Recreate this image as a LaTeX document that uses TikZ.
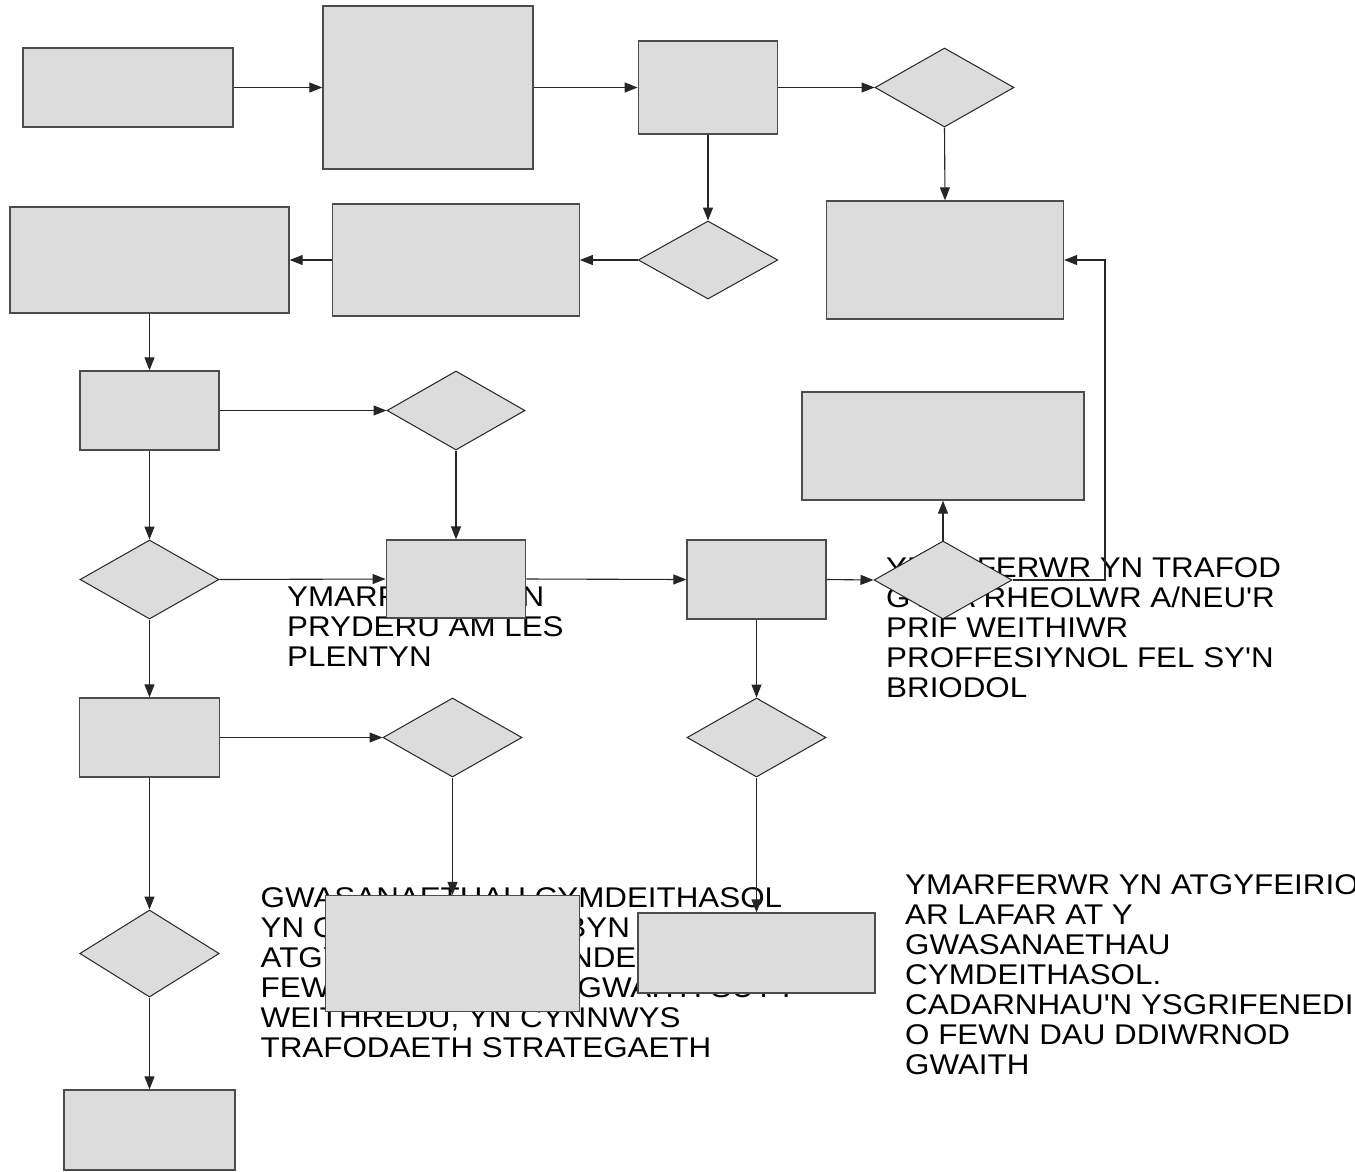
\documentclass[tikz,border=0pt]{standalone}
\usepackage{fontspec}
\setmainfont{Liberation Sans}[FakeStretch=1.1,Ligatures=TeXOff]
\usetikzlibrary{shapes.geometric,arrows.meta}
\definecolor{boxgray}{HTML}{DCDCDC}
\begin{document}
\begin{tikzpicture}[x=1pt,y=-1pt,
  box/.style={rectangle,draw=black!70,line width=1.3pt,fill=boxgray,inner sep=0pt},
  dia/.style={diamond,draw=black!85,line width=1pt,fill=boxgray,inner sep=0pt},
  conn/.style={draw=black!85,line width=1.1pt,-{Triangle[length=13pt,width=10pt]}},
  lbl/.style={anchor=north west,inner sep=0pt,align=left,font=\fontsize{28.5}{30}\selectfont}]
\useasboundingbox (0,0) rectangle (1355,1171);
\fill[white] (0,0) rectangle (1355,1171);

% free texts (partly covered by shapes)
\node[lbl] (t1) at (287,587) {YMARFERWR YN\\PRYDERU AM LES\\PLENTYN};
\node[lbl] (t2) at (886,557) {YMARFERWR YN TRAFOD\\GYDA RHEOLWR A/NEU'R\\PRIF WEITHIWR\\PROFFESIYNOL FEL SY'N\\BRIODOL};
\node[lbl] (t3) at (260.5,887) {GWASANAETHAU CYMDEITHASOL\\YN CYDNABOD DERBYN YR\\ATGYFEIRIAD A PHENDERFYNU O\\FEWN UN DIWRNOD GWAITH SUT I\\WEITHREDU, YN CYNNWYS\\TRAFODAETH STRATEGAETH};
\node[lbl] (t4) at (905,874) {YMARFERWR YN ATGYFEIRIO\\AR LAFAR AT Y\\GWASANAETHAU\\CYMDEITHASOL.\\CADARNHAU'N YSGRIFENEDIG\\O FEWN DAU DDIWRNOD\\GWAITH};

% boxes
\node[box,minimum width=210pt,minimum height=79pt] (r1) at (128,87.5) {};
\node[box,minimum width=210pt,minimum height=163pt] (r2) at (428,87.5) {};
\node[box,minimum width=139.5pt,minimum height=93pt] (r3) at (708,87.5) {};
\node[dia,minimum width=139pt,minimum height=79pt] (d1) at (944.5,87.5) {};
\node[box,minimum width=237pt,minimum height=118pt] (r4) at (945,260) {};
\node[dia,minimum width=139.5pt,minimum height=78pt] (d2) at (708,260) {};
\node[box,minimum width=246.5pt,minimum height=112pt] (r5) at (456,260) {};
\node[box,minimum width=279pt,minimum height=106pt] (r6) at (149.5,260) {};
\node[box,minimum width=139pt,minimum height=79pt] (r7) at (149.5,410.5) {};
\node[dia,minimum width=138pt,minimum height=79pt] (d3) at (456,410.5) {};
\node[dia,minimum width=139pt,minimum height=79pt] (d4) at (149.5,579.5) {};
\node[box,minimum width=139.5pt,minimum height=78pt] (r8) at (456,579) {};
\node[box,minimum width=139pt,minimum height=79pt] (r9) at (756.5,579.5) {};
\node[dia,minimum width=138pt,minimum height=78pt] (d5) at (943,580) {};
\node[box,minimum width=282pt,minimum height=108pt] (r10) at (943,446) {};
\node[box,minimum width=139.5pt,minimum height=79pt] (r11) at (149.5,737.5) {};
\node[dia,minimum width=139pt,minimum height=79pt] (d6) at (452.5,737.5) {};
\node[dia,minimum width=139pt,minimum height=79pt] (d7) at (756.5,737.5) {};
\node[dia,minimum width=139.5pt,minimum height=87pt] (d8) at (149.5,953.5) {};
\node[box,minimum width=171pt,minimum height=80pt] (r12) at (149.5,1130) {};
\node[box,minimum width=254pt,minimum height=116pt] (r13) at (452.5,953.5) {};
\node[box,minimum width=237pt,minimum height=80pt] (r14) at (756.5,953) {};

\coordinate (bend) at (1105,580);

% connectors
\draw[conn] (r1.east) -- (r2.west);
\draw[conn] (r2.east) -- (r3.west);
\draw[conn] (r3.east) -- (d1.west);
\draw[conn] (d1.south) -- (r4.north);
\draw[conn] (r3.south) -- (d2.north);
\draw[conn] (d2.west) -- (r5.east);
\draw[conn] (r5.west) -- (r6.east);
\draw[conn] (r6.south) -- (r7.north);
\draw[conn] (r7.east) -- (d3.west);
\draw[conn] (d3.south) -- (r8.north);
\draw[conn] (r7.south) -- (d4.north);
\draw[conn] (d4.east) -- (r8.west);
\draw[conn] (r8.east) -- (r9.west);
\draw[conn] (r9.east) -- (d5.west);
\draw[conn] (d5.north) -- (r10.south);
\draw[conn] (d5.east) -- (bend) |- (r4.east);
\draw[conn] (r9.south) -- (d7.north);
\draw[conn] (d4.south) -- (r11.north);
\draw[conn] (r11.east) -- (d6.west);
\draw[conn] (d6.south) -- (r13.north);
\draw[conn] (d7.south) -- (r14.north);
\draw[conn] (r11.south) -- (d8.north);
\draw[conn] (d8.south) -- (r12.north);
\end{tikzpicture}
\end{document}
